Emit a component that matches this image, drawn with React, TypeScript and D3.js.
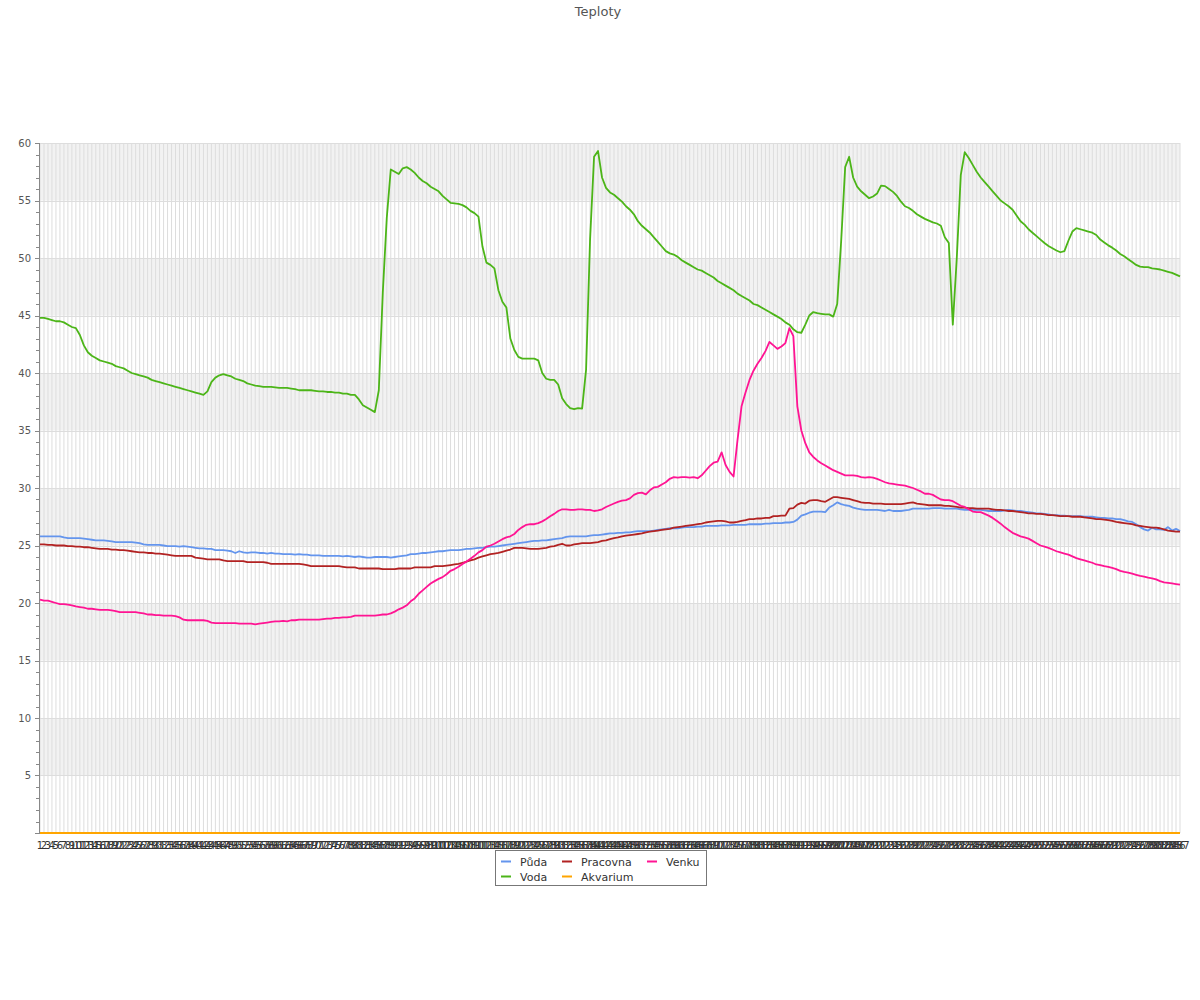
import React from "react";
import * as d3 from "d3";

const title = "Teploty";
const categories: string[] = d3.range(1, 288).map((d) => String(d));
const yTicks = [5, 10, 15, 20, 25, 30, 35, 40, 45, 50, 55, 60];

const puda = [
  25.8, 25.8, 25.8, 25.8, 25.8, 25.8, 25.7, 25.65, 25.65, 25.65,
  25.65, 25.6, 25.55, 25.5, 25.45, 25.45, 25.45, 25.4, 25.35, 25.3,
  25.3, 25.3, 25.3, 25.3, 25.25, 25.2, 25.1, 25.05, 25.05, 25.05,
  25.05, 25.0, 24.95, 24.95, 24.95, 24.9, 24.95, 24.9, 24.85, 24.8,
  24.75, 24.75, 24.7, 24.7, 24.6, 24.6, 24.6, 24.55, 24.5, 24.35,
  24.5, 24.4, 24.35, 24.4, 24.4, 24.35, 24.35, 24.3, 24.35, 24.3,
  24.3, 24.25, 24.25, 24.25, 24.2, 24.25, 24.2, 24.2, 24.15, 24.15,
  24.15, 24.1, 24.1, 24.1, 24.1, 24.1, 24.05, 24.1, 24.05, 24.0,
  24.05, 24.0, 23.95, 23.95, 24.0, 24.0, 24.0, 24.0, 23.95, 24.0,
  24.05, 24.1, 24.15, 24.25, 24.25, 24.3, 24.35, 24.35, 24.4, 24.45,
  24.5, 24.5, 24.55, 24.6, 24.6, 24.6, 24.65, 24.7, 24.7, 24.75,
  24.8, 24.8, 24.85, 24.9, 24.9, 24.95, 25.0, 25.05, 25.1, 25.15,
  25.2, 25.25, 25.3, 25.35, 25.4, 25.4, 25.45, 25.45, 25.5, 25.55,
  25.6, 25.65, 25.75, 25.8, 25.8, 25.8, 25.8, 25.8, 25.85, 25.9,
  25.9, 25.95, 26.0, 26.05, 26.05, 26.1, 26.1, 26.15, 26.15, 26.2,
  26.25, 26.25, 26.25, 26.25, 26.3, 26.35, 26.4, 26.45, 26.5, 26.5,
  26.5, 26.55, 26.6, 26.6, 26.6, 26.65, 26.65, 26.7, 26.7, 26.7,
  26.7, 26.75, 26.75, 26.75, 26.8, 26.8, 26.8, 26.8, 26.85, 26.85,
  26.85, 26.85, 26.9, 26.9, 26.95, 26.95, 26.95, 27.0, 27.0, 27.05,
  27.25, 27.6, 27.7, 27.85, 27.95, 27.95, 27.95, 27.9, 28.3, 28.5,
  28.75, 28.6, 28.5, 28.45, 28.3, 28.2, 28.15, 28.1, 28.1, 28.1,
  28.1, 28.05, 28.0, 28.1, 28.0, 28.0, 28.0, 28.05, 28.1, 28.2,
  28.2, 28.2, 28.2, 28.2, 28.25, 28.25, 28.25, 28.2, 28.2, 28.2,
  28.2, 28.15, 28.1, 28.1, 28.1, 28.1, 28.1, 28.05, 28.0, 28.0,
  28.0, 28.0, 28.05, 28.1, 28.05, 28.0, 28.0, 27.95, 27.9, 27.85,
  27.8, 27.8, 27.75, 27.7, 27.65, 27.65, 27.6, 27.6, 27.55, 27.55,
  27.55, 27.55, 27.5, 27.5, 27.5, 27.45, 27.4, 27.4, 27.35, 27.35,
  27.3, 27.3, 27.2, 27.1, 27.05, 26.85, 26.6, 26.4, 26.3, 26.55,
  26.4, 26.4, 26.35, 26.6, 26.3, 26.45, 26.25,
];

const voda = [
  44.8, 44.8, 44.7, 44.6, 44.5, 44.5, 44.4, 44.2, 44.0, 43.9,
  43.3, 42.4, 41.8, 41.5, 41.3, 41.1, 41.0, 40.9, 40.8, 40.6,
  40.5, 40.4, 40.2, 40.0, 39.9, 39.8, 39.7, 39.6, 39.4, 39.3,
  39.2, 39.1, 39.0, 38.9, 38.8, 38.7, 38.6, 38.5, 38.4, 38.3,
  38.2, 38.1, 38.4, 39.2, 39.6, 39.8, 39.9, 39.8, 39.7, 39.5,
  39.4, 39.3, 39.1, 39.0, 38.9, 38.85, 38.8, 38.8, 38.8, 38.75,
  38.7, 38.7, 38.7, 38.65, 38.6, 38.5, 38.5, 38.5, 38.5, 38.45,
  38.4, 38.4, 38.35, 38.35, 38.3, 38.3, 38.2, 38.2, 38.1, 38.1,
  37.7, 37.2, 37.0, 36.8, 36.6, 38.5, 47.0, 53.5, 57.7, 57.5,
  57.3, 57.8, 57.9, 57.7, 57.4, 57.0, 56.7, 56.5, 56.2, 56.0,
  55.8, 55.4, 55.1, 54.8, 54.75, 54.7, 54.6, 54.4, 54.1, 53.9,
  53.6, 51.0, 49.6, 49.4, 49.1, 47.2, 46.2, 45.7, 43.0, 42.0,
  41.4, 41.25, 41.25, 41.25, 41.25, 41.1, 40.0, 39.5, 39.4, 39.4,
  39.0, 37.8, 37.3, 36.95, 36.85, 36.95, 36.9, 40.3, 51.6, 58.8,
  59.3, 57.0, 56.1, 55.7, 55.5, 55.2, 54.9, 54.5, 54.2, 53.8,
  53.2, 52.8, 52.5, 52.2, 51.8, 51.4, 51.0, 50.6, 50.4, 50.3,
  50.1, 49.8, 49.6, 49.4, 49.2, 49.0, 48.9, 48.7, 48.5, 48.3,
  48.0, 47.8, 47.6, 47.4, 47.2, 46.9, 46.7, 46.5, 46.3, 46.0,
  45.9, 45.7, 45.5, 45.3, 45.1, 44.9, 44.7, 44.4, 44.2, 43.8,
  43.55, 43.5, 44.2, 45.0, 45.3, 45.2, 45.15, 45.1, 45.1, 44.9,
  46.0, 51.5, 57.9, 58.8, 57.0, 56.2, 55.8, 55.5, 55.2, 55.35,
  55.6, 56.3, 56.25, 56.0, 55.75, 55.4, 54.9, 54.5, 54.35, 54.1,
  53.8, 53.6, 53.4, 53.25, 53.1, 53.0, 52.8, 51.8, 51.3, 44.2,
  50.0, 57.2, 59.2, 58.7, 58.1, 57.5, 57.0, 56.6, 56.2, 55.8,
  55.4, 55.0, 54.75, 54.5, 54.2, 53.7, 53.2, 52.9, 52.5, 52.2,
  51.9, 51.6, 51.3, 51.05, 50.85, 50.65, 50.5, 50.6, 51.5, 52.3,
  52.6, 52.5, 52.4, 52.3, 52.2, 52.0, 51.6, 51.35, 51.1, 50.9,
  50.65, 50.35, 50.15, 49.9, 49.65, 49.4, 49.25, 49.2, 49.2, 49.1,
  49.05, 49.0, 48.9, 48.8, 48.7, 48.55, 48.4,
];

const pracovna = [
  25.1, 25.1, 25.05, 25.05, 25.0, 25.0, 25.0, 24.95, 24.95, 24.9,
  24.9, 24.85, 24.85, 24.8, 24.75, 24.7, 24.7, 24.7, 24.65, 24.65,
  24.6, 24.6, 24.55, 24.5, 24.45, 24.4, 24.4, 24.35, 24.35, 24.3,
  24.3, 24.25, 24.2, 24.15, 24.1, 24.1, 24.1, 24.1, 24.1, 23.95,
  23.9, 23.85, 23.8, 23.8, 23.8, 23.8, 23.7, 23.65, 23.65, 23.65,
  23.65, 23.65, 23.55, 23.55, 23.55, 23.55, 23.55, 23.5, 23.4, 23.4,
  23.4, 23.4, 23.4, 23.4, 23.4, 23.4, 23.35, 23.3, 23.2, 23.2,
  23.2, 23.2, 23.2, 23.2, 23.2, 23.2, 23.15, 23.1, 23.1, 23.1,
  23.0, 23.0, 23.0, 23.0, 23.0, 23.0, 22.95, 22.95, 22.95, 22.95,
  23.0, 23.0, 23.0, 23.0, 23.1, 23.1, 23.1, 23.1, 23.1, 23.2,
  23.2, 23.2, 23.25, 23.3, 23.35, 23.4, 23.5, 23.6, 23.7, 23.8,
  23.95, 24.05, 24.15, 24.25, 24.3, 24.35, 24.45, 24.55, 24.65, 24.8,
  24.8, 24.8, 24.75, 24.7, 24.7, 24.7, 24.75, 24.8, 24.9, 24.95,
  25.05, 25.15, 25.0, 25.0, 25.1, 25.15, 25.2, 25.2, 25.2, 25.25,
  25.3, 25.4, 25.45, 25.55, 25.65, 25.7, 25.8, 25.85, 25.9, 25.95,
  26.0, 26.05, 26.15, 26.2, 26.25, 26.3, 26.35, 26.4, 26.45, 26.55,
  26.6, 26.65, 26.7, 26.75, 26.8, 26.85, 26.9, 27.0, 27.05, 27.1,
  27.15, 27.15, 27.1, 27.0, 27.0, 27.05, 27.15, 27.2, 27.3, 27.3,
  27.35, 27.35, 27.4, 27.4, 27.55, 27.55, 27.6, 27.6, 28.2, 28.25,
  28.55, 28.7, 28.65, 28.9, 28.95, 28.95, 28.85, 28.8, 29.0, 29.2,
  29.2, 29.15, 29.1, 29.05, 28.95, 28.85, 28.75, 28.7, 28.7, 28.65,
  28.65, 28.65, 28.6, 28.6, 28.6, 28.6, 28.6, 28.65, 28.7, 28.75,
  28.65, 28.6, 28.55, 28.5, 28.5, 28.5, 28.5, 28.45, 28.45, 28.4,
  28.35, 28.3, 28.3, 28.25, 28.25, 28.2, 28.2, 28.2, 28.2, 28.15,
  28.1, 28.1, 28.05, 28.0, 28.0, 27.95, 27.9, 27.85, 27.8, 27.8,
  27.75, 27.75, 27.7, 27.65, 27.65, 27.6, 27.55, 27.55, 27.55, 27.5,
  27.5, 27.5, 27.45, 27.4, 27.35, 27.3, 27.3, 27.25, 27.2, 27.15,
  27.05, 27.0, 26.95, 26.9, 26.85, 26.75, 26.7, 26.65, 26.6, 26.55,
  26.55, 26.5, 26.4, 26.3, 26.25, 26.2, 26.2,
];

const akvarium = [
  0, 0, 0, 0, 0, 0, 0, 0, 0, 0, 0, 0, 0, 0, 0, 0, 0, 0, 0, 0,
  0, 0, 0, 0, 0, 0, 0, 0, 0, 0, 0, 0, 0, 0, 0, 0, 0, 0, 0, 0,
  0, 0, 0, 0, 0, 0, 0, 0, 0, 0, 0, 0, 0, 0, 0, 0, 0, 0, 0, 0,
  0, 0, 0, 0, 0, 0, 0, 0, 0, 0, 0, 0, 0, 0, 0, 0, 0, 0, 0, 0,
  0, 0, 0, 0, 0, 0, 0, 0, 0, 0, 0, 0, 0, 0, 0, 0, 0, 0, 0, 0,
  0, 0, 0, 0, 0, 0, 0, 0, 0, 0, 0, 0, 0, 0, 0, 0, 0, 0, 0, 0,
  0, 0, 0, 0, 0, 0, 0, 0, 0, 0, 0, 0, 0, 0, 0, 0, 0, 0, 0, 0,
  0, 0, 0, 0, 0, 0, 0, 0, 0, 0, 0, 0, 0, 0, 0, 0, 0, 0, 0, 0,
  0, 0, 0, 0, 0, 0, 0, 0, 0, 0, 0, 0, 0, 0, 0, 0, 0, 0, 0, 0,
  0, 0, 0, 0, 0, 0, 0, 0, 0, 0, 0, 0, 0, 0, 0, 0, 0, 0, 0, 0,
  0, 0, 0, 0, 0, 0, 0, 0, 0, 0, 0, 0, 0, 0, 0, 0, 0, 0, 0, 0,
  0, 0, 0, 0, 0, 0, 0, 0, 0, 0, 0, 0, 0, 0, 0, 0, 0, 0, 0, 0,
  0, 0, 0, 0, 0, 0, 0, 0, 0, 0, 0, 0, 0, 0, 0, 0, 0, 0, 0, 0,
  0, 0, 0, 0, 0, 0, 0, 0, 0, 0, 0, 0, 0, 0, 0, 0, 0, 0, 0, 0,
  0, 0, 0, 0, 0, 0, 0,
];

const venku = [
  20.3, 20.2, 20.2, 20.1, 20.0, 19.9, 19.9, 19.85, 19.8, 19.7,
  19.65, 19.6, 19.5, 19.5, 19.45, 19.4, 19.4, 19.4, 19.35, 19.3,
  19.2, 19.2, 19.2, 19.2, 19.2, 19.15, 19.1, 19.0, 19.0, 18.95,
  18.95, 18.9, 18.9, 18.9, 18.85, 18.75, 18.55, 18.5, 18.5, 18.5,
  18.5, 18.5, 18.45, 18.3, 18.25, 18.25, 18.25, 18.25, 18.25, 18.25,
  18.2, 18.2, 18.2, 18.2, 18.15, 18.2, 18.25, 18.3, 18.35, 18.4,
  18.4, 18.45, 18.4, 18.5, 18.5, 18.55, 18.55, 18.55, 18.55, 18.55,
  18.55, 18.6, 18.65, 18.65, 18.7, 18.7, 18.75, 18.75, 18.8, 18.9,
  18.9, 18.9, 18.9, 18.9, 18.9, 18.95, 19.0, 19.0, 19.1, 19.25,
  19.45, 19.6, 19.8, 20.15, 20.4, 20.8, 21.1, 21.4, 21.7, 21.9,
  22.1, 22.25, 22.5, 22.8, 22.95, 23.15, 23.4, 23.6, 23.85, 24.1,
  24.4, 24.6, 24.9, 25.0, 25.15, 25.35, 25.55, 25.7, 25.8, 26.0,
  26.35, 26.6, 26.8, 26.85, 26.85, 26.95, 27.1, 27.3, 27.55, 27.75,
  28.0, 28.15, 28.15, 28.1, 28.1, 28.15, 28.15, 28.1, 28.1, 28.0,
  28.05, 28.15, 28.35, 28.5, 28.65, 28.8, 28.9, 28.95, 29.1, 29.4,
  29.55, 29.6, 29.45, 29.8, 30.05, 30.1, 30.3, 30.5, 30.8, 30.95,
  30.9, 30.95, 30.95, 30.9, 30.95, 30.85, 31.1, 31.5, 31.9, 32.2,
  32.3, 33.1, 32.0, 31.4, 31.0, 34.2, 37.1, 38.3, 39.4, 40.2,
  40.8, 41.3, 41.9, 42.7, 42.4, 42.1, 42.3, 42.6, 43.9, 43.2,
  37.1, 35.0, 33.9, 33.1, 32.7, 32.4, 32.15, 31.95, 31.75, 31.55,
  31.4, 31.25, 31.1, 31.1, 31.1, 31.05, 30.95, 30.9, 30.95, 30.9,
  30.8, 30.65, 30.5, 30.4, 30.35, 30.3, 30.25, 30.2, 30.1, 30.0,
  29.85, 29.7, 29.5, 29.5, 29.4, 29.2, 29.0, 28.95, 28.95, 28.85,
  28.65, 28.45, 28.35, 28.15, 27.95, 27.9, 27.9, 27.75, 27.6, 27.4,
  27.15, 26.9, 26.6, 26.35, 26.1, 25.95, 25.8, 25.7, 25.6, 25.4,
  25.2, 25.0, 24.9, 24.8, 24.65, 24.5, 24.4, 24.3, 24.2, 24.05,
  23.9, 23.8, 23.7, 23.6, 23.5, 23.35, 23.3, 23.2, 23.15, 23.05,
  22.95, 22.8, 22.7, 22.65, 22.55, 22.45, 22.35, 22.3, 22.2, 22.15,
  22.05, 21.9, 21.8, 21.75, 21.7, 21.65, 21.6,
];

const seriesNames = ["Půda", "Voda", "Pracovna", "Akvarium", "Venku"];
const seriesColors = ["#6495ed", "#4cb518", "#b22222", "#ffa500", "#ff1493"];
const seriesValues = [puda, voda, pracovna, akvarium, venku];

const W = 1200;
const H = 1000;
const left = 40;
const right = 1180;
const top = 143;
const bottom = 833;
const FONT = "'DejaVu Sans', sans-serif";

export default function App() {
  const x = d3.scalePoint<string>().domain(categories).range([left, right]);
  const y = d3.scaleLinear().domain([0, 60]).range([bottom, top]);
  const line = d3
    .line<number>()
    .x((_, i) => x(categories[i]) as number)
    .y((d) => y(d));

  const bands = d3.range(0, 60, 10).map((b) => [b + 5, b + 10]);
  const minor = d3.range(0, 61, 1);

  const legendItems = [
    { name: seriesNames[0], color: seriesColors[0], col: 0, row: 0 },
    { name: seriesNames[1], color: seriesColors[1], col: 0, row: 1 },
    { name: seriesNames[2], color: seriesColors[2], col: 1, row: 0 },
    { name: seriesNames[3], color: seriesColors[3], col: 1, row: 1 },
    { name: seriesNames[4], color: seriesColors[4], col: 2, row: 0 },
  ];
  const colX = [501, 562, 647];

  return (
    <svg
      width={W}
      height={H}
      style={{ position: "absolute", left: 0, top: 0, background: "#fff" }}
      fontFamily={FONT}
    >
      <text x={598} y={16} textAnchor="middle" fontSize={13} fill="#555">
        {title}
      </text>
      {bands.map(([a, b]) => (
        <rect
          key={"band" + a}
          x={left}
          y={y(b)}
          width={right - left}
          height={y(a) - y(b)}
          fill="#f2f2f2"
        />
      ))}
      {categories.map((c) => (
        <line
          key={"vg" + c}
          x1={x(c)}
          x2={x(c)}
          y1={top}
          y2={bottom}
          stroke="#dddddd"
          strokeWidth={1}
        />
      ))}
      {yTicks.map((t) => (
        <line
          key={"hg" + t}
          x1={left}
          x2={right}
          y1={Math.round(y(t)) + 0.5}
          y2={Math.round(y(t)) + 0.5}
          stroke="#dddddd"
        />
      ))}
      <line x1={left - 0.5} x2={left - 0.5} y1={top} y2={bottom} stroke="#888" />
      <line x1={left - 5} x2={right} y1={bottom + 0.5} y2={bottom + 0.5} stroke="#888" />
      {minor.map((t) => (
        <line
          key={"mt" + t}
          x1={left - (t % 5 === 0 ? 5 : 4)}
          x2={left}
          y1={Math.round(y(t)) + 0.5}
          y2={Math.round(y(t)) + 0.5}
          stroke="#888"
        />
      ))}
      {yTicks.map((t) => (
        <text
          key={"yl" + t}
          x={31}
          y={y(t) + 3.5}
          textAnchor="end"
          fontSize={10}
          fill="#555"
        >
          {t}
        </text>
      ))}
      {categories.map((c) => (
        <text
          key={"xl" + c}
          x={x(c)}
          y={849}
          textAnchor="middle"
          fontSize={10}
          fill="#333"
        >
          {c}
        </text>
      ))}
      {seriesValues.map((vals, si) => (
        <path
          key={"s" + si}
          d={line(vals) || ""}
          fill="none"
          stroke={seriesColors[si]}
          strokeWidth={si === 3 ? 2 : 1.8}
          strokeLinejoin="round"
        />
      ))}
      <rect x={495.5} y={850.5} width={211} height={35} fill="#fff" stroke="#777" />
      {legendItems.map((it) => (
        <g key={"lg" + it.name}>
          <line
            x1={colX[it.col]}
            x2={colX[it.col] + 10}
            y1={861.5 + it.row * 15}
            y2={861.5 + it.row * 15}
            stroke={it.color}
            strokeWidth={2}
          />
          <text x={colX[it.col] + 19} y={865.5 + it.row * 15} fontSize={11} fill="#333">
            {it.name}
          </text>
        </g>
      ))}
    </svg>
  );
}
